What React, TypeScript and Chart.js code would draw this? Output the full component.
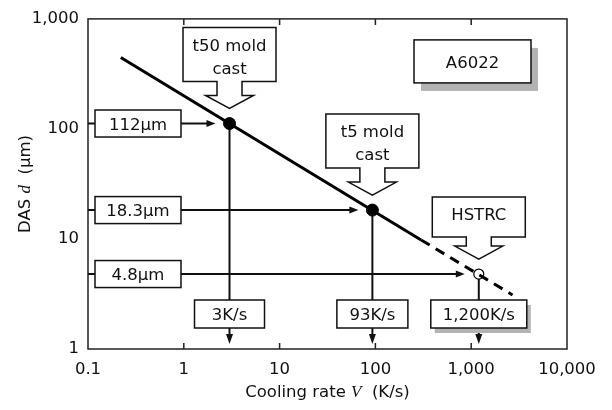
import React, { useEffect, useRef } from "react";
import { Chart, registerables } from "chart.js";

Chart.register(...registerables);

// ---------------- data ----------------
const fitSolidRate = [0.22, 300];
const fitSolidDas = [445, 9.8];
const fitDashRate = [300, 2700];
const fitDashDas = [9.8, 3.1];
const castRate = [3, 93];
const castDas = [112, 18.3];
const hstrcRate = [1200];
const hstrcDas = [4.8];
const dasLabels = ["112µm", "18.3µm", "4.8µm"];
const rateLabels = ["3K/s", "93K/s", "1,200K/s"];
const processLabels = [["t50 mold", "cast"], ["t5 mold", "cast"], ["HSTRC"]];
const alloyLabel = "A6022";
const xTickValues = [0.1, 1, 10, 100, 1000, 10000];
const yTickValues = [1, 10, 100, 1000];
const xTitleParts = ["Cooling rate ", "V", "  (K/s)"];
const yTitleParts = ["DAS ", "d", "  (µm)"];

// ---------------- styles ----------------
const SANS = '"DejaVu Sans", sans-serif';
const FONT_SANS = `16.5px ${SANS}`;
const FONT_ITAL = 'italic 17px "Liberation Serif", "DejaVu Serif", serif';
const INK = "#111";
const SHADOW = "#b3b3b3";

function fmt(v: number): string {
  const s = String(v);
  if (v < 1000) return s;
  return s.replace(/\B(?=(\d{3})+(?!\d))/g, ",");
}

function arrowHead(ctx: CanvasRenderingContext2D, tx: number, ty: number, dir: "right" | "down", len: number, hw: number) {
  ctx.beginPath();
  if (dir === "right") {
    ctx.moveTo(tx, ty);
    ctx.lineTo(tx - len, ty - hw);
    ctx.lineTo(tx - len, ty + hw);
  } else {
    ctx.moveTo(tx, ty);
    ctx.lineTo(tx - hw, ty - len);
    ctx.lineTo(tx + hw, ty - len);
  }
  ctx.closePath();
  ctx.fill();
}

function box(ctx: CanvasRenderingContext2D, x: number, y: number, w: number, h: number, shadow?: [number, number]) {
  if (shadow) {
    ctx.fillStyle = SHADOW;
    ctx.fillRect(x + shadow[0], y + shadow[1], w, h);
  }
  ctx.fillStyle = "#fff";
  ctx.fillRect(x, y, w, h);
  ctx.strokeStyle = INK;
  ctx.lineWidth = 1.5;
  ctx.strokeRect(x, y, w, h);
}

function richText(ctx: CanvasRenderingContext2D, parts: string[], cx: number, baseY: number) {
  const fonts = [FONT_SANS, FONT_ITAL, FONT_SANS];
  let total = 0;
  const widths = parts.map((p, i) => {
    ctx.font = fonts[i];
    const w = ctx.measureText(p).width;
    total += w;
    return w;
  });
  let x = cx - total / 2;
  ctx.textAlign = "left";
  ctx.textBaseline = "alphabetic";
  ctx.fillStyle = INK;
  parts.forEach((p, i) => {
    ctx.font = fonts[i];
    ctx.fillText(p, x, baseY);
    x += widths[i];
  });
}

const overlayPlugin = {
  id: "overlay",
  beforeDatasetsDraw(chart: any) {
    const { ctx, chartArea: a, scales } = chart;
    const xs = scales.x;
    const ys = scales.y;
    ctx.save();
    // frame
    ctx.strokeStyle = "#222";
    ctx.lineWidth = 1.5;
    ctx.strokeRect(a.left, a.top, a.right - a.left, a.bottom - a.top);
    // inner ticks on top & bottom
    ctx.beginPath();
    xTickValues.slice(1, -1).forEach((v) => {
      const px = xs.getPixelForValue(v);
      ctx.moveTo(px, a.top);
      ctx.lineTo(px, a.top + 6);
      ctx.moveTo(px, a.bottom);
      ctx.lineTo(px, a.bottom - 6);
    });
    ctx.stroke();

    // arrows from left axis to point and from point to bottom axis
    const rates = [...castRate, ...hstrcRate];
    const das = [...castDas, ...hstrcDas];
    ctx.strokeStyle = INK;
    ctx.fillStyle = INK;
    ctx.lineWidth = 2;
    rates.forEach((r, i) => {
      const px = xs.getPixelForValue(r);
      const py = ys.getPixelForValue(das[i]);
      const tipX = px - 14;
      ctx.beginPath();
      ctx.moveTo(a.left, py);
      ctx.lineTo(tipX - 6, py);
      ctx.stroke();
      arrowHead(ctx, tipX, py, "right", 9, 3.5);
      const tipY = a.bottom - 5;
      ctx.beginPath();
      ctx.moveTo(px, py + 5);
      ctx.lineTo(px, tipY - 6);
      ctx.stroke();
      arrowHead(ctx, px, tipY, "down", 10, 3.5);
    });
    ctx.restore();
  },
  afterDatasetsDraw(chart: any) {
    const { ctx, chartArea: a, scales } = chart;
    const xs = scales.x;
    const ys = scales.y;
    const rates = [...castRate, ...hstrcRate];
    const das = [...castDas, ...hstrcDas];
    ctx.save();

    // callouts (box with down arrow)
    rates.forEach((r, i) => {
      const px = xs.getPixelForValue(r);
      const py = ys.getPixelForValue(das[i]);
      const lines = processLabels[i];
      const tipX = px;
      const tipY = py - 15;
      const twoLine = lines.length > 1;
      const rb = tipY - (twoLine ? 27 : 22);
      const rt = rb - (twoLine ? 54 : 40);
      const rl = tipX - 46.5;
      const rr = tipX + 46.5;
      const wy = tipY - 13;
      ctx.beginPath();
      ctx.moveTo(rl, rt);
      ctx.lineTo(rr, rt);
      ctx.lineTo(rr, rb);
      ctx.lineTo(tipX + 12.5, rb);
      ctx.lineTo(tipX + 12.5, wy);
      ctx.lineTo(tipX + 24, wy);
      ctx.lineTo(tipX, tipY);
      ctx.lineTo(tipX - 24, wy);
      ctx.lineTo(tipX - 12.5, wy);
      ctx.lineTo(tipX - 12.5, rb);
      ctx.lineTo(rl, rb);
      ctx.closePath();
      ctx.fillStyle = "#fff";
      ctx.fill();
      ctx.strokeStyle = INK;
      ctx.lineWidth = 1.5;
      ctx.stroke();
      ctx.fillStyle = INK;
      ctx.font = FONT_SANS;
      ctx.textAlign = "center";
      ctx.textBaseline = "alphabetic";
      lines.forEach((t, j) => {
        ctx.fillText(t, tipX, rt + 23 + j * 23);
      });
    });

    // DAS label boxes on the left
    rates.forEach((r, i) => {
      const py = ys.getPixelForValue(das[i]);
      const bx = a.left + 7;
      const bw = 86;
      const bh = 27;
      box(ctx, bx, py - bh / 2, bw, bh);
      ctx.fillStyle = INK;
      ctx.font = FONT_SANS;
      ctx.textAlign = "center";
      ctx.textBaseline = "alphabetic";
      ctx.fillText(dasLabels[i], bx + bw / 2, py + 6);
    });

    // cooling-rate label boxes at bottom
    const rateBoxW = [70, 71, 96];
    rates.forEach((r, i) => {
      const px = xs.getPixelForValue(r);
      const bw = rateBoxW[i];
      const by = a.bottom - 49;
      const bh = 28;
      box(ctx, px - bw / 2, by, bw, bh, i === 2 ? [4, 5] : undefined);
      ctx.fillStyle = INK;
      ctx.font = FONT_SANS;
      ctx.textAlign = "center";
      ctx.textBaseline = "alphabetic";
      ctx.fillText(rateLabels[i], px, by + bh / 2 + 6);
    });

    // alloy label
    const ax = a.left + 326;
    const ay = a.top + 21;
    box(ctx, ax, ay, 117, 43, [7, 8]);
    ctx.fillStyle = INK;
    ctx.font = FONT_SANS;
    ctx.textAlign = "center";
    ctx.fillText(alloyLabel, ax + 58.5, ay + 28);

    // axis titles
    richText(ctx, xTitleParts, (a.left + a.right) / 2, 397);
    ctx.save();
    ctx.translate(30, (a.top + a.bottom) / 2);
    ctx.rotate(-Math.PI / 2);
    richText(ctx, yTitleParts, 0, 0);
    ctx.restore();

    ctx.restore();
  },
};

export default function App() {
  const ref = useRef<HTMLCanvasElement | null>(null);
  useEffect(() => {
    if (!ref.current) return;
    const chart = new Chart(ref.current, {
      type: "scatter",
      data: {
        datasets: [
          {
            label: "cast",
            data: castRate.map((r, i) => ({ x: r, y: castDas[i] })),
            pointRadius: 6,
            pointHoverRadius: 6,
            backgroundColor: "#000",
            borderColor: "#000",
            showLine: false,
          },
          {
            label: "HSTRC",
            data: hstrcRate.map((r, i) => ({ x: r, y: hstrcDas[i] })),
            pointRadius: 5,
            pointHoverRadius: 5,
            borderWidth: 1.2,
            backgroundColor: "rgba(0,0,0,0)",
            borderColor: "#000",
            showLine: false,
          },
          {
            label: "fit",
            data: fitSolidRate.map((r, i) => ({ x: r, y: fitSolidDas[i] })),
            showLine: true,
            pointRadius: 0,
            borderWidth: 3,
            borderColor: "#000",
          },
          {
            label: "fit extrapolated",
            data: fitDashRate.map((r, i) => ({ x: r, y: fitDashDas[i] })),
            showLine: true,
            pointRadius: 0,
            borderWidth: 3,
            borderColor: "#000",
            borderDash: [10, 7],
          },
        ],
      },
      options: {
        responsive: false,
        animation: false,
        devicePixelRatio: 1,
        layout: { padding: { top: 15, right: 45, left: 0, bottom: 0 } },
        plugins: { legend: { display: false }, tooltip: { enabled: false } },
        scales: {
          x: {
            type: "logarithmic",
            min: 0.1,
            max: 10000,
            grid: { display: false, drawTicks: false },
            border: { display: false },
            afterBuildTicks: (s: any) => {
              s.ticks = xTickValues.map((v) => ({ value: v }));
            },
            afterFit: (s: any) => {
              s.height = 61;
            },
            ticks: {
              autoSkip: false,
              maxRotation: 0,
              padding: 11,
              color: INK,
              font: { family: SANS, size: 16.5 },
              callback: (v: any) => fmt(Number(v)),
            },
          },
          y: {
            type: "logarithmic",
            min: 1,
            max: 1000,
            grid: { display: false, drawTicks: false },
            border: { display: false },
            afterBuildTicks: (s: any) => {
              s.ticks = yTickValues.map((v) => ({ value: v }));
            },
            afterFit: (s: any) => {
              s.width = 88;
            },
            ticks: {
              autoSkip: false,
              padding: 9,
              color: INK,
              font: { family: SANS, size: 16.5 },
              callback: (v: any) => fmt(Number(v)),
            },
          },
        },
      },
      plugins: [overlayPlugin],
    });
    return () => chart.destroy();
  }, []);
  return (
    <div style={{ position: "fixed", left: 0, top: 0, width: 612, height: 410, background: "#fff" }}>
      <canvas ref={ref} width={612} height={410} style={{ display: "block", width: 612, height: 410 }} />
    </div>
  );
}
